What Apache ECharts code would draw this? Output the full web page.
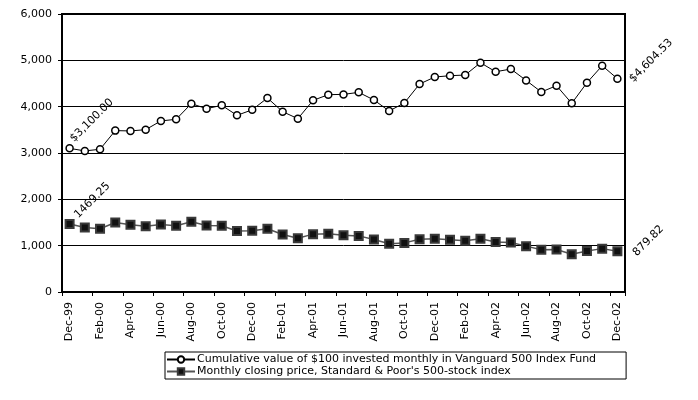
<!DOCTYPE html>
<html>
<head>
<meta charset="utf-8">
<script src="https://cdn.jsdelivr.net/npm/echarts@6/dist/echarts.min.js"></script>
<style>html,body{margin:0;padding:0;background:#fff;}#c{width:698px;height:400px;}</style>
</head>
<body>
<div id="c"></div>
<script>
const categories = ['Dec-99','Jan-00','Feb-00','Mar-00','Apr-00','May-00','Jun-00','Jul-00','Aug-00','Sep-00','Oct-00','Nov-00','Dec-00',
  'Jan-01','Feb-01','Mar-01','Apr-01','May-01','Jun-01','Jul-01','Aug-01','Sep-01','Oct-01','Nov-01','Dec-01',
  'Jan-02','Feb-02','Mar-02','Apr-02','May-02','Jun-02','Jul-02','Aug-02','Sep-02','Oct-02','Nov-02','Dec-02'];
const fundValues = [3100.00,3045,3080,3483,3476,3504,3692,3727,4065,3957,4029,3813,3932,
  4187,3892,3741,4136,4259,4265,4309,4144,3907,4080,4489,4640,
  4668,4683,4948,4754,4812,4567,4317,4453,4072,4517,4884,4604.53];
const spValues = [1469.25,1394,1366,1499,1452,1421,1455,1431,1518,1437,1429,1315,1320,
  1366,1240,1160,1249,1256,1224,1211,1134,1041,1060,1139,1148,
  1130,1107,1147,1077,1067,990,912,916,815,886,936,879.82];
const seriesNames = ['Cumulative value of $100 invested monthly in Vanguard 500 Index Fund',
  "Monthly closing price, Standard & Poor's 500-stock index"];
const yTicks = [0,1000,2000,3000,4000,5000,6000];

const FONT = 'DejaVu Sans, sans-serif';
function fmtComma(v){ return String(v).replace(/\B(?=(\d{3})+(?!\d))/g, ','); }
function lbl(text, pos, offset){
  return {show:true, formatter:text, rotate:45, position:pos, align:'left', verticalAlign:'bottom',
    offset:offset, color:'#000', fontSize:11, fontFamily:FONT};
}
const fundData = fundValues.map((v,i)=>{
  if(i===0) return {value:v, label:lbl('$3,100.00','top',[1,8])};
  if(i===fundValues.length-1) return {value:v, label:lbl('$4,604.53','right',[2,10])};
  return v;
});
const spData = spValues.map((v,i)=>{
  if(i===0) return {value:v, label:lbl('1469.25','top',[3,12])};
  if(i===spValues.length-1) return {value:v, label:lbl('879.82','right',[3,13])};
  return v;
});

const chart = echarts.init(document.getElementById('c'));
chart.setOption({
  animation:false,
  backgroundColor:'#fff',
  textStyle:{fontFamily:FONT},
  grid:{left:62,right:73,top:14,bottom:108,show:true,borderColor:'#000',borderWidth:2,backgroundColor:'transparent'},
  legend:{
    orient:'vertical', left:165, top:352, itemGap:1, itemWidth:28, itemHeight:8,
    borderColor:'#000', borderWidth:1, padding:[2,30,2,1], borderRadius:0,
    textStyle:{fontSize:11, color:'#000', fontFamily:FONT, padding:[0,0,0,-3]},
    data:seriesNames
  },
  xAxis:{
    type:'category', data:categories, boundaryGap:true,
    axisLine:{lineStyle:{color:'#000',width:2}},
    axisTick:{show:true, interval:1, length:4, lineStyle:{color:'#000'}},
    axisLabel:{interval:1, rotate:90, margin:10, fontSize:11, color:'#000', fontFamily:FONT},
    splitLine:{show:false}
  },
  yAxis:{
    type:'value', min:yTicks[0], max:yTicks[yTicks.length-1], interval:1000,
    axisLine:{show:true, lineStyle:{color:'#000',width:2}},
    axisTick:{show:true, length:4, lineStyle:{color:'#000'}},
    axisLabel:{formatter:v=>fmtComma(v), fontSize:11, color:'#000', margin:10, fontFamily:FONT},
    splitLine:{lineStyle:{color:'#000',width:1}}
  },
  series:[
    {name:seriesNames[0], type:'line', data:fundData, symbol:'circle', symbolSize:7,
      lineStyle:{color:'#000', width:1},
      itemStyle:{color:'#fff', borderColor:'#000', borderWidth:1.5}},
    {name:seriesNames[1], type:'line', data:spData, symbol:'rect', symbolSize:8,
      lineStyle:{color:'#555', width:1.5},
      itemStyle:{color:'#111', borderColor:'#3a3a3a', borderWidth:2}}
  ]
});
</script>
</body>
</html>
